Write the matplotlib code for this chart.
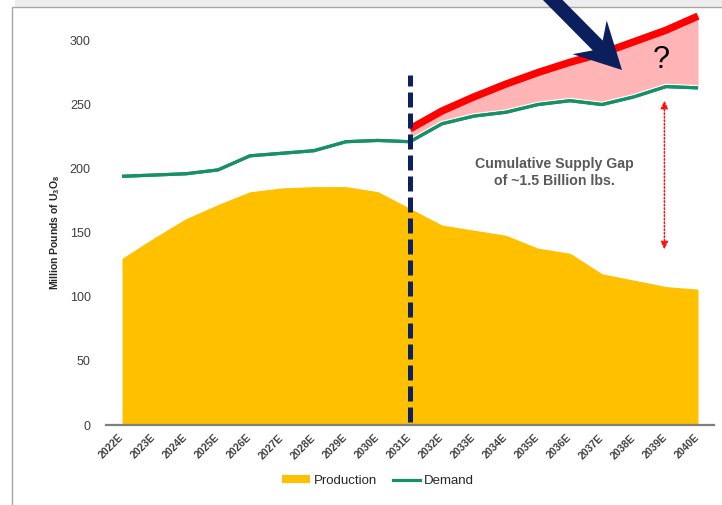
import matplotlib
matplotlib.use("Agg")
import matplotlib.pyplot as plt
from matplotlib.patches import Patch, FancyArrow, Rectangle
from matplotlib.lines import Line2D
from matplotlib.transforms import Affine2D
import matplotlib.patheffects as pe

plt.rcParams['font.family'] = ['Liberation Sans', 'DejaVu Sans']
plt.rcParams['mathtext.fontset'] = 'custom'
plt.rcParams['mathtext.rm'] = 'Liberation Sans:bold'
plt.rcParams['mathtext.bf'] = 'Liberation Sans:bold'

years = ['2022E', '2023E', '2024E', '2025E', '2026E', '2027E', '2028E', '2029E', '2030E',
         '2031E', '2032E', '2033E', '2034E', '2035E', '2036E', '2037E', '2038E', '2039E', '2040E']
production = [130, 146, 161, 172, 182, 185, 186, 186, 182, 169, 156, 152, 148, 138, 134, 118, 113, 108, 106]
demand = [194, 195, 196, 199, 210, 212, 214, 221, 222, 221, 235, 241, 244, 250, 253, 250, 256, 264, 263]
gap_years = years[9:]
upper_demand = [231, 245, 256, 266, 275, 283, 290, 299, 308, 319]
yticks = [0, 50, 100, 150, 200, 250, 300]

W, H = 722, 505
fig = plt.figure(figsize=(W / 100, H / 100), dpi=100)
ax = fig.add_axes([106 / W, (H - 425) / H, (714 - 106) / W, (425 - 2) / H])
ax.patch.set_visible(False)

x = list(range(len(years)))
xg = x[9:]

ax.fill_between(x, production, 0, color='#FFC000', lw=0, zorder=1)
ax.fill_between(xg, demand[9:], upper_demand, color='#FFB5B5', lw=0, zorder=2)
ax.plot(x, demand, color='#179068', lw=2.3, zorder=3, solid_capstyle='butt',
        path_effects=[pe.withStroke(linewidth=4.2, foreground='white'), pe.Normal()])
ax.plot(xg, upper_demand, color='#FF0000', lw=5.3, zorder=4, solid_capstyle='butt')
ax.plot([9, 9], [2, 273], color='#0D2160', lw=3.6, dashes=(3, 1.2), zorder=6)

# red dotted double arrow
ax.annotate('', xy=(16.95, 137), xytext=(16.95, 253),
            arrowprops=dict(arrowstyle='<|-|>,head_length=0.45,head_width=0.22',
                            color='#FF1010', lw=1.1, linestyle=(0, (1, 1.3)),
                            shrinkA=0, shrinkB=0), zorder=5)

ax.text(13.5, 197, 'Cumulative Supply Gap\nof ~1.5 Billion lbs.', ha='center', va='center',
        fontsize=10.2, fontweight='bold', color='#595959', linespacing=1.3)
ax.text(16.85, 285, '?', ha='center', va='center', fontsize=22, color='black')

ax.set_xlim(-0.5, 18.5)
ax.set_ylim(0, 330)
ax.set_yticks(yticks)
ax.set_yticklabels([str(v) for v in yticks], fontsize=9, color='#404040')
ax.set_xticks(x)
ax.set_xticklabels(years, rotation=45, ha='right', va='center', rotation_mode='anchor',
                   fontsize=7.5, color='#404040', fontweight='bold')
ax.tick_params(axis='both', length=0)
ax.tick_params(axis='x', pad=8)
ax.tick_params(axis='y', pad=11)
for s in ['top', 'right', 'left']:
    ax.spines[s].set_visible(False)
ax.spines['bottom'].set_color('#7F7F7F')
ax.spines['bottom'].set_linewidth(1.6)
ax.spines['bottom'].set_zorder(7)
ax.set_ylabel(r'Million Pounds of U$_{3}$O$_{8}$', fontsize=7.5, fontweight='bold', color='#262626')
ax.yaxis.set_label_coords(-44 / 608, (425 - 232) / 423)

handles = [Patch(facecolor='#FFC000', edgecolor='none', label='Production'),
           Line2D([0], [0], color='#179068', lw=2.3, label='Demand')]
fig.legend(handles=handles, loc='center', bbox_to_anchor=(378 / W, 1 - 481 / H), ncol=2,
           frameon=False, fontsize=9.5, handlelength=2.1, handleheight=0.55,
           columnspacing=1.2, handletextpad=0.3, labelcolor='#262626')

# frame and shadow
pix = Affine2D().scale(1 / W, -1 / H).translate(0, 1) + fig.transFigure
fig.add_artist(Rectangle((15, 0), W, 7, transform=pix, facecolor='#EDEDED', edgecolor='none', zorder=0))
fig.add_artist(Rectangle((12, 7), W + 20, H + 20, transform=pix, facecolor='none',
                         edgecolor='#A6A6A6', lw=1.0, zorder=1))

# navy arrow
fig.add_artist(FancyArrow(531, -22, 91, 92, width=14, length_includes_head=True,
                          head_width=48, head_length=46, overhang=0.25,
                          transform=pix, color='#0A1F5C', lw=0, zorder=10))

fig.savefig('out.png', dpi=100)
